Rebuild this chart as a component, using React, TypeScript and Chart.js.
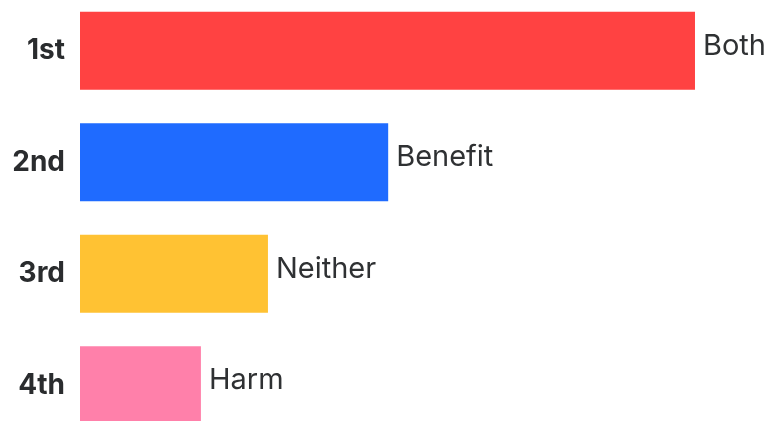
import React, { useEffect, useRef } from "react";
import { Chart, registerables } from "chart.js";

Chart.register(...registerables);

const ranks = ["1st", "2nd", "3rd", "4th"];
const answers = ["Both", "Benefit", "Neither", "Harm"];
const values = [89.0, 44.6, 27.2, 17.5];
const colors = ["#FF4242", "#1F6BFF", "#FFC233", "#FF80AA"];

const FONT = "Inter, 'Noto Sans', sans-serif";

const endLabels = {
  id: "endLabels",
  afterDatasetsDraw(chart: any) {
    const ctx = chart.ctx;
    const meta = chart.getDatasetMeta(0);
    ctx.save();
    ctx.font = `400 29px ${FONT}`;
    ctx.fillStyle = "#2f3133";
    ctx.textAlign = "left";
    ctx.textBaseline = "alphabetic";
    meta.data.forEach((bar: any, i: number) => {
      ctx.fillText(answers[i], bar.x + 8, bar.y + 4);
    });
    ctx.restore();
  },
};

export default function App() {
  const ref = useRef<HTMLCanvasElement | null>(null);
  useEffect(() => {
    document.body.style.margin = "0";
    document.body.style.overflow = "hidden";
    if (!ref.current) return;
    const chart = new Chart(ref.current, {
      type: "bar",
      data: {
        labels: ranks,
        datasets: [
          {
            data: values,
            backgroundColor: colors,
            borderWidth: 0,
            barPercentage: 0.7,
            categoryPercentage: 1,
          },
        ],
      },
      options: {
        indexAxis: "y",
        animation: false,
        responsive: false,
        maintainAspectRatio: false,
        devicePixelRatio: 1,
        layout: { padding: 0 },
        plugins: { legend: { display: false }, tooltip: { enabled: false } },
        scales: {
          x: { display: false, min: 0, max: 100 },
          y: {
            grid: { display: false, drawTicks: false },
            border: { display: false },
            ticks: {
              padding: 15,
              color: "#2a2c2e",
              font: { family: FONT, size: 28, weight: "bold" },
            },
            afterFit: (scale: any) => {
              scale.width = 80;
              scale.paddingTop = 0;
              scale.paddingBottom = 0;
            },
          },
        },
      },
      plugins: [endLabels],
    });
    return () => chart.destroy();
  }, []);
  return (
    <div style={{ position: "fixed", left: 0, top: 0, width: 771, height: 421, overflow: "hidden", background: "#fff" }}>
      <canvas
        ref={ref}
        width={771}
        height={446}
        style={{ position: "absolute", left: 0, top: -5, width: 771, height: 446, display: "block" }}
      />
    </div>
  );
}
